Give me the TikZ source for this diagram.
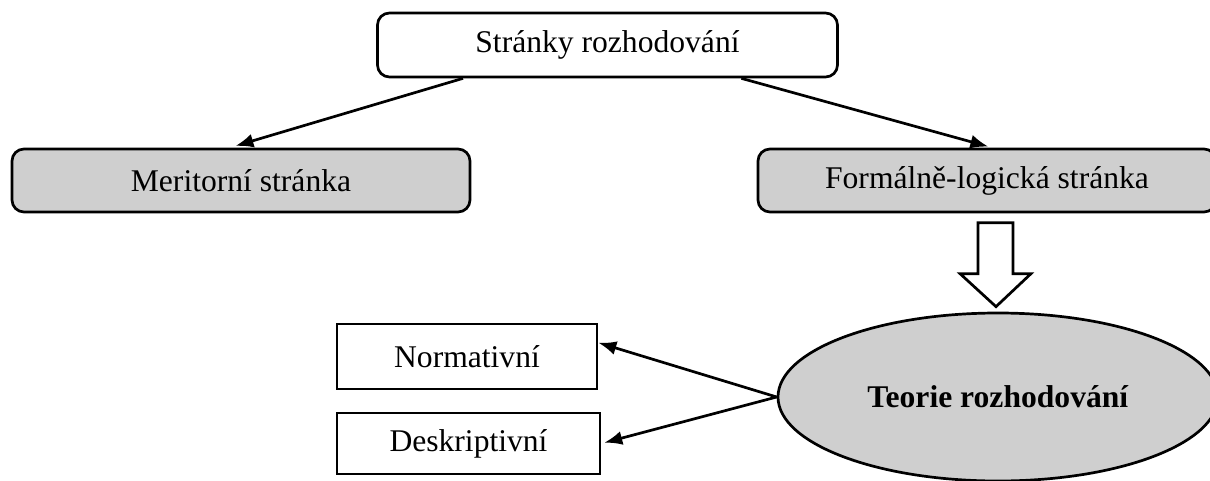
\documentclass[tikz,border=0pt]{standalone}
\usepackage{fontspec}
\setmainfont{Liberation Serif}
\usepackage{tikz}
\usetikzlibrary{shapes,arrows.meta,positioning}
\usetikzlibrary{calc}
\definecolor{boxgray}{rgb}{0.81,0.81,0.81}

\begin{document}
\begin{tikzpicture}[x=0.5pt,y=-0.5pt,line width=1.35pt,
    txt/.style={font=\fontsize{15.8}{19}\selectfont},
    rbox/.style={txt,draw,rounded corners=6pt,minimum width=230pt,minimum height=32pt,inner sep=0},
    sbox/.style={txt,draw,minimum height=31pt,inner sep=0},
    arr/.style={-{Latex[length=9pt,width=7pt]}}]
            \useasboundingbox (0,0) rectangle (1210,481);

            \node[rbox] (pages) at (607.5,45) {Stránky rozhodování};
            \node[rbox,fill=boxgray,minimum width=229pt,minimum height=31.5pt] (merit) at (241,180.5) {Meritorní stránka};
            \node[rbox,fill=boxgray,minimum width=229pt,minimum height=31.5pt] (formal) at (987,180.5) {Formálně-logická stránka};

            \node[sbox,minimum width=130pt,minimum height=32.5pt] (norm) at (467,356.5) {Normativní};
            \node[sbox,minimum width=131.5pt,minimum height=30.5pt] (descr) at (468.5,443.5) {Deskriptivní};
            \node[txt,draw,ellipse,fill=boxgray,minimum width=220pt,minimum height=84pt,inner sep=0] (theory) at (998,397) {\textbf{Teorie rozhodování}};

            \draw[arr,shorten >=3pt] (pages.193.7) -- (merit.109.3);
            \draw[arr,shorten >=2pt] (pages.346.7) -- (formal.81);
            % block arrow
            \draw[fill=white] ($(theory.north)+(-2,-5)$) coordinate (tip) -- ++(35,-33) -- ++(-18,0) -- ++(0,-51) -- ++(-35,0) -- ++(0,51) -- ++(-18,0) -- cycle;
            \draw[arr] (theory.west) -- (norm.6);
            \draw[arr,shorten >=1.5pt] (theory.west) -- (descr.east);
\end{tikzpicture}
\end{document}
